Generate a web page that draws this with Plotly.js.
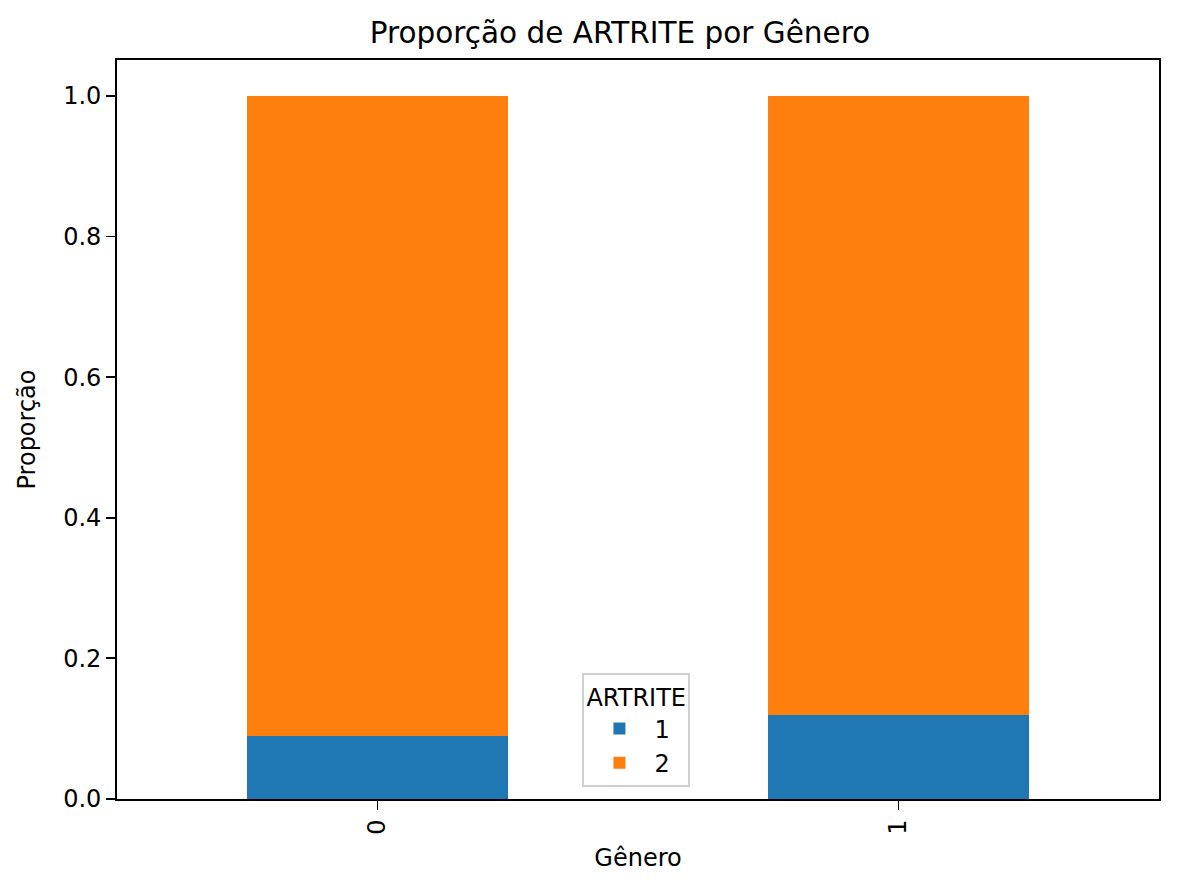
<!DOCTYPE html>
<html>
<head>
<meta charset="utf-8">
<script src="https://cdn.plot.ly/plotly-3.0.1.min.js"></script>
<style>
html,body{margin:0;padding:0;background:#fff;}
#chart{width:1177px;height:891px;}
</style>
</head>
<body>
<div id="chart"></div>
<script>
const genero = ['0', '1'];
const artrite1 = [0.089, 0.120];
const artrite2 = [0.911, 0.880];
const yTicks = [0.0, 0.2, 0.4, 0.6, 0.8, 1.0];

const FONT = 'DejaVu Sans, sans-serif';

const traces = [
  {type: 'bar', name: '1', legendgroup: 'a', x: genero, y: artrite1, marker: {color: '#1f77b4', line: {width: 0}}, width: 0.5},
  {type: 'bar', name: '2', legendgroup: 'b', x: genero, y: artrite2, marker: {color: '#ff7f0e', line: {width: 0}}, width: 0.5}
];

const layout = {
  width: 1177, height: 891,
  margin: {l: 117, r: 18, t: 60, b: 92},
  paper_bgcolor: '#fff', plot_bgcolor: '#fff',
  font: {family: FONT, size: 24, color: '#000'},
  barmode: 'stack',
  showlegend: true,
  title: {text: 'Proporção de ARTRITE por Gênero', font: {family: FONT, size: 29.5, color: '#000'},
          x: 0.4827, xref: 'paper', xanchor: 'center', y: 1 - 33/891, yref: 'container', yanchor: 'middle'},
  xaxis: {
    type: 'category', range: [-0.5, 1.5],
    showline: true, mirror: true, linecolor: '#000', linewidth: 1.8,
    ticks: 'outside', ticklen: 9, tickwidth: 1.8, tickcolor: '#000',
    tickangle: -90, tickfont: {family: FONT, size: 24},
    showgrid: false, zeroline: false,
    title: {text: 'Gênero', font: {family: FONT, size: 24}, standoff: 15}
  },
  yaxis: {
    range: [0, 1.051], tickvals: yTicks, ticktext: yTicks.map(v => v.toFixed(1)),
    showline: true, mirror: true, linecolor: '#000', linewidth: 1.8,
    ticks: 'outside', ticklen: 9, tickwidth: 1.8, tickcolor: '#000',
    tickfont: {family: FONT, size: 24},
    showgrid: false, zeroline: false,
    title: {text: 'Proporção', font: {family: FONT, size: 24}, standoff: 21}
  },
  legend: {
    x: 0.4985, xanchor: 'center', y: 0.016, yanchor: 'bottom',
    bgcolor: 'rgba(255,255,255,0.8)', bordercolor: '#d0d0d0', borderwidth: 2,
    font: {family: FONT, size: 24},
    title: {text: 'ARTRITE', side: 'top', font: {family: FONT, size: 24}},
    traceorder: 'normal', itemwidth: 60, tracegroupgap: 6
  }
};

Plotly.newPlot('chart', traces, layout, {displayModeBar: false, staticPlot: true});
</script>
</body>
</html>
